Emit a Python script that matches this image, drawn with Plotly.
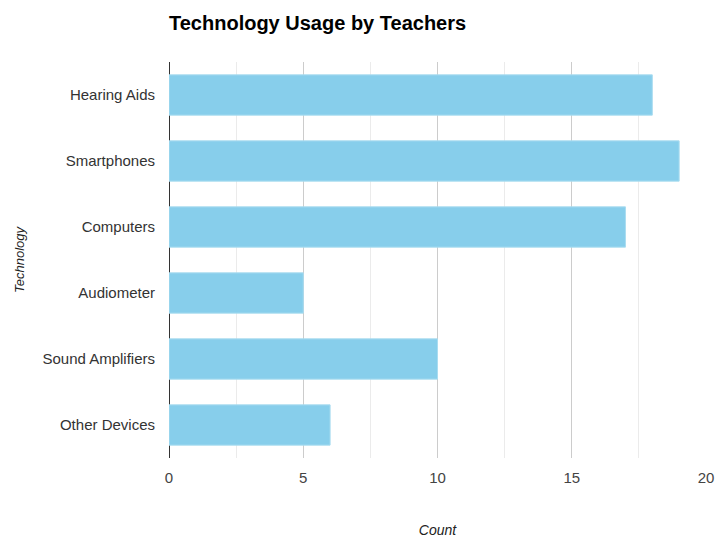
import plotly.graph_objects as go

# Survey data: how many teachers use each technology
technologies = ["Hearing Aids", "Smartphones", "Computers", "Audiometer",
                "Sound Amplifiers", "Other Devices"]
counts = [18, 19, 17, 5, 10, 6]

fig = go.Figure(
    go.Bar(
        x=counts,
        y=technologies,
        orientation="h",
        marker=dict(color="#87CEEB", line=dict(color="#a9dcf0", width=1)),
        hovertemplate="%{y}: %{x}<extra></extra>",
    )
)

fig.update_layout(
    width=716,
    height=539,
    margin=dict(l=169, r=10, t=62, b=81, autoexpand=False),
    paper_bgcolor="white",
    plot_bgcolor="white",
    font=dict(family="Liberation Sans, Arial, sans-serif", color="#444444", size=15),
    bargap=0.39,
    showlegend=False,
    title=dict(
        text="<b>Technology Usage by Teachers</b>",
        font=dict(size=20, color="#000000"),
        xref="container", x=169 / 716, xanchor="left",
        yref="container", y=1 - 23 / 539, yanchor="middle",
    ),
    xaxis=dict(
        range=[0, 20],
        dtick=5,
        automargin=False,
        showgrid=True,
        gridcolor="#cccccc",
        gridwidth=1,
        minor=dict(dtick=2.5, showgrid=True, gridcolor="#ebebeb", gridwidth=1),
        zeroline=True,
        zerolinecolor="#333333",
        zerolinewidth=1,
        showline=False,
        ticks="",
        ticklabelstandoff=9,
        tickfont=dict(size=15, color="#444444"),
        title=dict(text="<i>Count</i>", font=dict(size=14, color="#222222"), standoff=40),
        fixedrange=True,
    ),
    yaxis=dict(
        autorange="reversed",
        automargin=False,
        showgrid=False,
        zeroline=False,
        showline=False,
        ticks="",
        ticklabelstandoff=13,
        tickfont=dict(size=15, color="#333333"),
        title=dict(text="<i>Technology</i>", font=dict(size=13, color="#222222"), standoff=14),
        fixedrange=True,
    ),
)

fig.write_html("out.html")
